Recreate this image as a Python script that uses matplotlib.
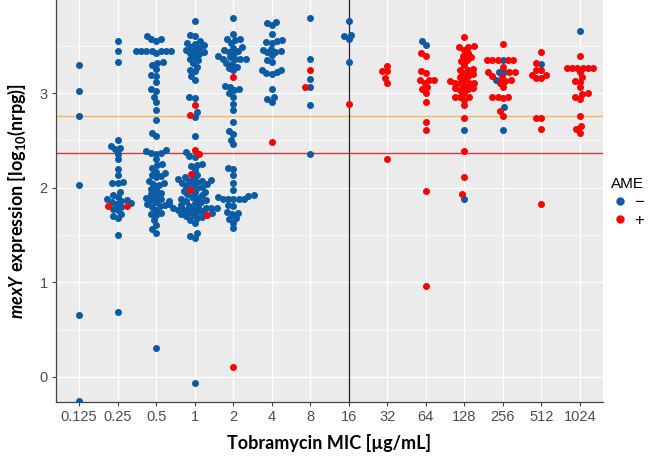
import numpy as np
import matplotlib
matplotlib.use("Agg")
import matplotlib.pyplot as plt
from matplotlib.lines import Line2D

# MIC categories (x axis)
mic_labels = ["0.125", "0.25", "0.5", "1", "2", "4", "8", "16",
              "32", "64", "128", "256", "512", "1024"]

# log10(nrpg) values, AME negative, one list per MIC
ame_neg = [
    [3.30, 3.02, 2.76, 2.03, 0.655, -0.25],
    [3.55, 3.45, 3.33, 2.51, 2.44, 2.42, 2.41, 2.36, 2.30, 2.20, 2.13, 2.06, 2.05, 2.05,
     1.95, 1.92, 1.90, 1.88, 1.87, 1.86, 1.85, 1.84, 1.83, 1.80, 1.78, 1.76, 1.72, 1.70,
     1.68, 1.50, 0.69],
    [3.60, 3.57, 3.57, 3.55, 3.45, 3.45, 3.45, 3.45, 3.45, 3.45, 3.45, 3.42, 3.33, 3.32,
     3.30, 3.26, 3.19, 3.18, 3.12, 3.04, 3.02, 2.96, 2.91, 2.82, 2.72, 2.58, 2.55,
     2.40, 2.39, 2.37, 2.37, 2.36, 2.30, 2.25, 2.24, 2.21, 2.17, 2.16, 2.14, 2.12, 2.11,
     2.07, 2.05, 2.04, 2.03, 1.99, 1.98, 1.94, 1.93, 1.91, 1.89, 1.88, 1.87, 1.86, 1.85,
     1.83, 1.82, 1.81, 1.80, 1.77, 1.73, 1.72, 1.71, 1.66, 1.61, 1.56, 1.52, 0.31],
    [3.76, 3.62, 3.60, 3.55, 3.53, 3.52, 3.51, 3.49, 3.48, 3.46, 3.45, 3.44, 3.42, 3.41,
     3.39, 3.36, 3.35, 3.32, 3.28, 3.25, 3.23, 3.18, 3.14, 2.96, 2.95, 2.80, 2.75, 2.55,
     2.38, 2.34, 2.33, 2.25, 2.24, 2.23, 2.19, 2.14, 2.11, 2.10, 2.09, 2.08, 2.07, 2.07,
     2.06, 2.05, 2.04, 2.03, 2.02, 2.01, 2.00, 1.97, 1.96, 1.95, 1.93, 1.92, 1.90, 1.89,
     1.88, 1.87, 1.86, 1.85, 1.84, 1.83, 1.82, 1.81, 1.80, 1.79, 1.79, 1.79, 1.79, 1.78,
     1.77, 1.76, 1.75, 1.75, 1.74, 1.73, 1.72, 1.71, 1.70, 1.69, 1.68, 1.66, 1.63, 1.52,
     1.49, 1.47, -0.06],
    [3.79, 3.63, 3.57, 3.57, 3.56, 3.53, 3.49, 3.48, 3.46, 3.45, 3.44, 3.42, 3.39, 3.38,
     3.36, 3.36, 3.36, 3.36, 3.32, 3.31, 3.28, 3.27, 3.24, 3.08, 3.07, 3.04, 3.03, 3.00,
     2.96, 2.89, 2.82, 2.69, 2.60, 2.57, 2.51, 2.46, 2.21, 2.20, 2.14, 2.05, 1.98,
     1.92, 1.91, 1.90, 1.88, 1.88, 1.88, 1.88, 1.88, 1.82, 1.81, 1.74, 1.73, 1.72,
     1.68, 1.67, 1.63, 1.57],
    [3.75, 3.74, 3.72, 3.63, 3.56, 3.55, 3.54, 3.53, 3.47, 3.46, 3.45, 3.44, 3.43, 3.40,
     3.35, 3.33, 3.25, 3.24, 3.22, 3.21, 3.20, 3.04, 2.96, 2.94, 2.91],
    [3.79, 3.36, 3.15, 3.06, 2.87, 2.36],
    [3.76, 3.62, 3.60, 3.57, 3.33],
    [],
    [3.55, 3.51],
    [2.61, 1.88],
    [3.35, 3.22, 3.22, 3.14, 2.85, 2.61],
    [3.31],
    [3.66],
]

# log10(nrpg) values, AME positive, one list per MIC
ame_pos = [
    [],
    [1.81, 1.81],
    [],
    [2.87, 2.77, 2.40, 2.36, 2.15, 1.98, 1.71],
    [3.17, 0.11],
    [2.48],
    [3.25, 3.07],
    [2.89],
    [3.29, 3.23, 3.23, 3.16, 3.11, 2.30],
    [3.42, 3.39, 3.23, 3.21, 3.14, 3.14, 3.14, 3.11, 3.06, 3.04, 3.00, 2.91, 2.70, 2.61,
     1.97, 0.96],
    [3.59, 3.50, 3.49, 3.49, 3.46, 3.42, 3.39, 3.38, 3.35, 3.34, 3.30, 3.26, 3.25, 3.24,
     3.21, 3.20, 3.18, 3.17, 3.14, 3.13, 3.11, 3.11, 3.11, 3.11, 3.08, 3.05, 3.05, 3.04,
     3.03, 3.00, 2.96, 2.96, 2.96, 2.93, 2.87, 2.74, 2.39, 2.11, 1.93],
    [3.52, 3.35, 3.35, 3.35, 3.35, 3.35, 3.28, 3.22, 3.22, 3.22, 3.18, 3.17, 3.14, 3.13,
     3.11, 3.06, 2.96, 2.96, 2.96, 2.95, 2.81, 2.76],
    [3.44, 3.32, 3.24, 3.24, 3.19, 3.19, 3.16, 3.16, 2.74, 2.74, 2.62, 1.83],
    [3.39, 3.27, 3.27, 3.27, 3.27, 3.27, 3.27, 3.22, 3.17, 3.13, 3.12, 3.06, 3.00, 2.99,
     2.96, 2.94, 2.76, 2.65, 2.62, 2.58],
]

upper_cut = 2.76
lower_cut = 2.37
split_mic = "16"

blue = "#0B5BA5"
red = "#FF0000"

# axes geometry in pixels (fig 650x462 at dpi 100)
ax_left, ax_bottom, ax_w, ax_h = 56, 60, 547, 402
xlim = (-0.6, len(mic_labels) - 0.4)
ylim = (-0.265, 3.985)
px_per_x = ax_w / (xlim[1] - xlim[0])
px_per_y = ax_h / (ylim[1] - ylim[0])
marker_px = 7.0
spacing = 0.76 * marker_px


def swarm(values):
    """Simple beeswarm: horizontal pixel offset for each value."""
    vals = np.asarray(values, dtype=float)
    offs = np.zeros(len(vals))
    placed = []
    for i in np.argsort(vals, kind="stable"):
        y = vals[i] * px_per_y
        near = [(px, py) for px, py in placed if abs(py - y) < spacing]
        cands = [0.0]
        for px, py in near:
            dx = np.sqrt(spacing ** 2 - (py - y) ** 2)
            cands += [px + dx, px - dx]
        cands.sort(key=lambda c: (abs(c), c))
        for c in cands:
            if all((c - px) ** 2 + (y - py) ** 2 >= spacing ** 2 - 1e-6 for px, py in near):
                offs[i] = c
                break
        placed.append((offs[i], y))
    return offs / px_per_x


plt.rcParams["font.family"] = ["Liberation Sans", "DejaVu Sans"]
plt.rcParams["mathtext.fontset"] = "custom"
plt.rcParams["mathtext.rm"] = "Lato:bold"
plt.rcParams["mathtext.bf"] = "Lato:bold"
plt.rcParams["mathtext.it"] = "Lato:bold:italic"

fig = plt.figure(figsize=(6.5, 4.62), dpi=100)
ax = fig.add_axes([ax_left / 650, ax_bottom / 462, ax_w / 650, ax_h / 462])
ax.set_facecolor("#EBEBEB")

msize = (marker_px * 0.72) ** 2
for k, (neg, pos) in enumerate(zip(ame_neg, ame_pos)):
    vals = list(neg) + list(pos)
    if not vals:
        continue
    offs = swarm(vals)
    n = len(neg)
    xs = k + offs
    ax.scatter(xs[:n], neg, s=msize, color=blue, lw=0, zorder=3)
    ax.scatter(xs[n:], pos, s=msize, color=red, lw=0, zorder=4)

ax.axhline(upper_cut, color="#F2B866", lw=1.0, zorder=2)
ax.axhline(lower_cut, color="#D23A3A", lw=1.0, zorder=2)
ax.axvline(mic_labels.index(split_mic), color="#222222", lw=0.9, zorder=2)

ax.set_xlim(*xlim)
ax.set_ylim(*ylim)
ax.set_xticks(range(len(mic_labels)))
ax.set_xticklabels(mic_labels)
ax.set_yticks([0, 1, 2, 3])
ax.set_yticks([0.5, 1.5, 2.5, 3.5], minor=True)
ax.grid(which="major", color="white", lw=1.0)
ax.grid(which="minor", axis="y", color="white", lw=0.5)
ax.set_axisbelow(True)

for side in ["top", "right"]:
    ax.spines[side].set_visible(False)
for side in ["left", "bottom"]:
    ax.spines[side].set_color("#444444")
    ax.spines[side].set_linewidth(0.9)
ax.tick_params(which="major", length=3, color="#444444", labelcolor="#4D4D4D",
               labelsize=10.5, pad=3)
ax.tick_params(which="minor", length=0)

ax.set_xlabel("Tobramycin MIC [\u00b5g/mL]", family="Lato", fontweight="bold",
              fontsize=13, labelpad=7)
ax.set_ylabel(r"$\mathit{mexY}$ expression [log$_{10}$(nrpg)]", family="Lato",
              fontweight="bold", fontsize=13, labelpad=8)

handles = [Line2D([], [], marker="o", ls="", color=blue, markersize=5),
           Line2D([], [], marker="o", ls="", color=red, markersize=5)]
leg = fig.legend(handles, ["\u2212", "+"], title="AME", loc="upper left",
                 bbox_to_anchor=(0.938, 0.62), frameon=False, fontsize=12,
                 title_fontsize=11, handletextpad=0.4, labelspacing=0.2,
                 handlelength=1.0, borderpad=0.1, borderaxespad=0)
leg._legend_box.align = "left"

fig.savefig("out.png", dpi=100)
